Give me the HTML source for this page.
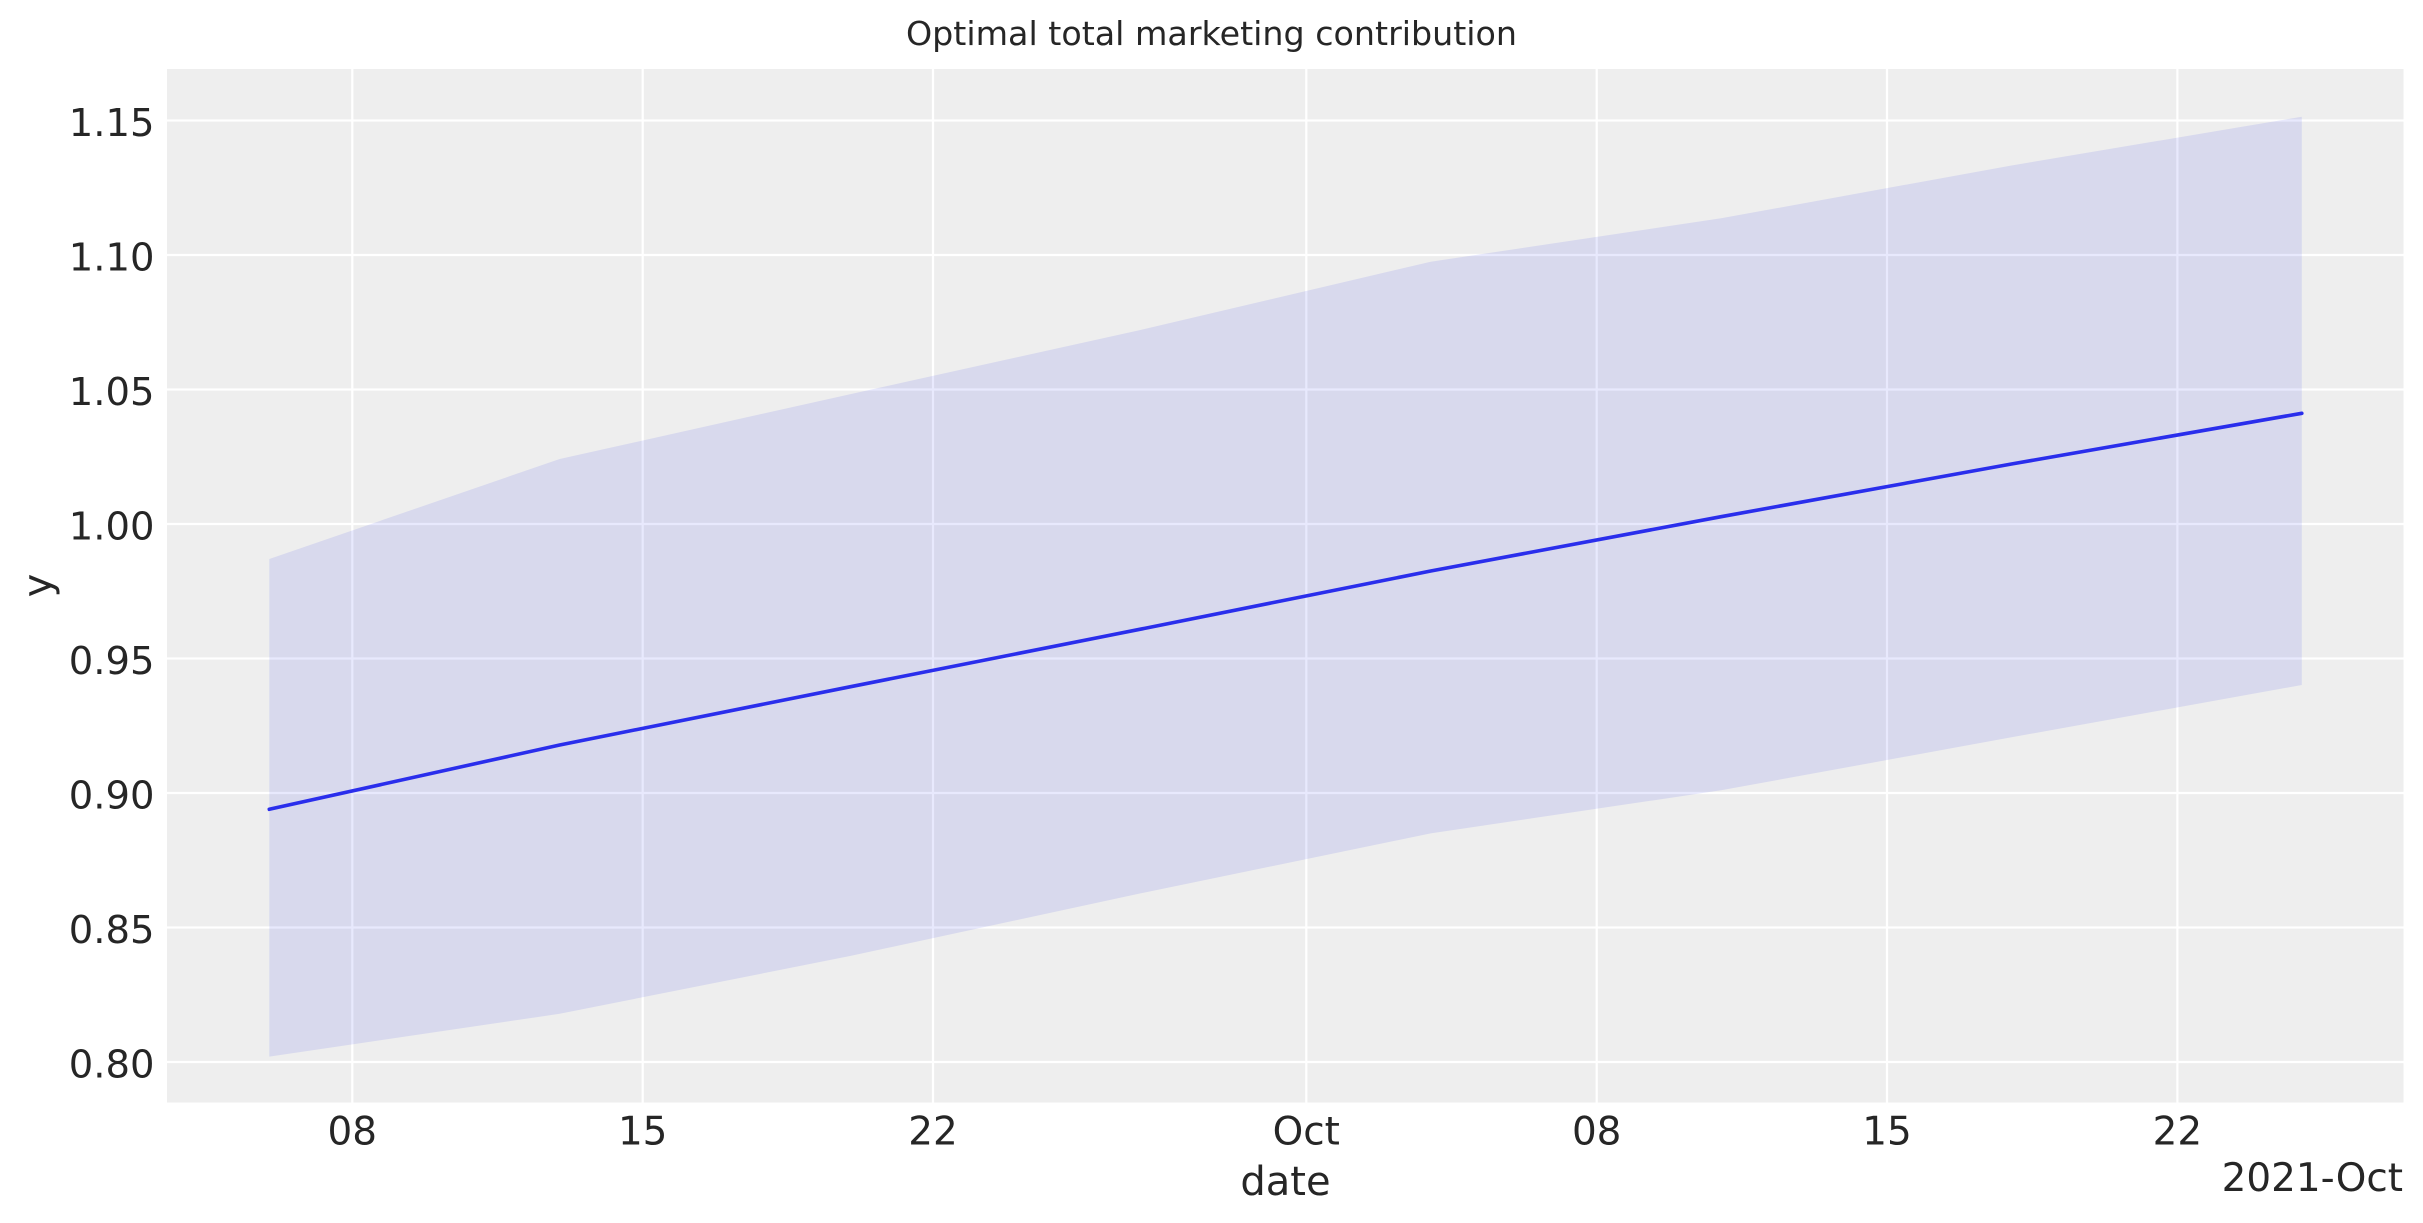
<!DOCTYPE html>
<html>
<head>
<meta charset="utf-8">
<style>
  html, body { margin: 0; padding: 0; background: #ffffff; }
  body { width: 2423px; height: 1223px; overflow: hidden; }
  svg { display: block; }
  text { font-family: "DejaVu Sans", "Liberation Sans", sans-serif; fill: #262626; }
</style>
</head>
<body>
<svg width="2423" height="1223" viewBox="0 0 2423 1223" xmlns="http://www.w3.org/2000/svg">
  <rect x="0" y="0" width="2423" height="1223" fill="#ffffff"/>
  <!-- title -->
  <text x="1211.5" y="45" font-size="33.3" text-anchor="middle">Optimal total marketing contribution</text>

  <!-- axes background -->
  <rect x="167" y="69" width="2236.5" height="1033.5" fill="#eeeeee"/>

  <!-- grid -->
  <g stroke="#ffffff" stroke-width="2.2">
    <line x1="167" x2="2403.5" y1="120.5" y2="120.5"/>
    <line x1="167" x2="2403.5" y1="255" y2="255"/>
    <line x1="167" x2="2403.5" y1="389.5" y2="389.5"/>
    <line x1="167" x2="2403.5" y1="524" y2="524"/>
    <line x1="167" x2="2403.5" y1="658.5" y2="658.5"/>
    <line x1="167" x2="2403.5" y1="793" y2="793"/>
    <line x1="167" x2="2403.5" y1="927.5" y2="927.5"/>
    <line x1="167" x2="2403.5" y1="1062" y2="1062"/>
    <line y1="69" y2="1102.5" x1="352.3" x2="352.3"/>
    <line y1="69" y2="1102.5" x1="642.7" x2="642.7"/>
    <line y1="69" y2="1102.5" x1="933.0" x2="933.0"/>
    <line y1="69" y2="1102.5" x1="1306.3" x2="1306.3"/>
    <line y1="69" y2="1102.5" x1="1596.7" x2="1596.7"/>
    <line y1="69" y2="1102.5" x1="1887.0" x2="1887.0"/>
    <line y1="69" y2="1102.5" x1="2177.4" x2="2177.4"/>
  </g>

  <!-- HDI band -->
  <polygon fill="#2a2eec" fill-opacity="0.105"
    points="269.3,559 559.7,459 850.0,394.2 1140.4,330 1430.7,261.7 1721.1,218.3 2011.5,165.5 2301.8,116.7
            2301.8,685 2011.5,737.3 1721.1,790.3 1430.7,833.4 1140.4,893.4 850.0,956.0 559.7,1013.8 269.3,1056.6"/>

  <!-- mean line -->
  <polyline fill="none" stroke="#2a2eec" stroke-width="3.6" stroke-linejoin="round" stroke-linecap="round"
    points="269.3,809.3 559.7,745 850.0,686.8 1140.4,629.2 1430.7,571 1721.1,516.7 2011.5,464 2301.8,413.3"/>

  <!-- y tick labels -->
  <g font-size="38.5" text-anchor="end">
    <text x="154.5" y="136">1.15</text>
    <text x="154.5" y="270.5">1.10</text>
    <text x="154.5" y="405">1.05</text>
    <text x="154.5" y="539.5">1.00</text>
    <text x="154.5" y="674">0.95</text>
    <text x="154.5" y="808.5">0.90</text>
    <text x="154.5" y="943">0.85</text>
    <text x="154.5" y="1077.5">0.80</text>
  </g>

  <!-- x tick labels -->
  <g font-size="38.9" text-anchor="middle">
    <text x="352.3" y="1144.5">08</text>
    <text x="642.7" y="1144.5">15</text>
    <text x="933.0" y="1144.5">22</text>
    <text x="1306.3" y="1144.5">Oct</text>
    <text x="1596.7" y="1144.5">08</text>
    <text x="1887.0" y="1144.5">15</text>
    <text x="2177.4" y="1144.5">22</text>
  </g>
  <text x="2403" y="1191" font-size="38.9" text-anchor="end">2021-Oct</text>

  <!-- axis labels -->
  <text x="1285.5" y="1195" font-size="40" text-anchor="middle">date</text>
  <text x="0" y="0" font-size="40" text-anchor="middle" transform="translate(51,585.5) rotate(-90)">y</text>
</svg>
</body>
</html>
